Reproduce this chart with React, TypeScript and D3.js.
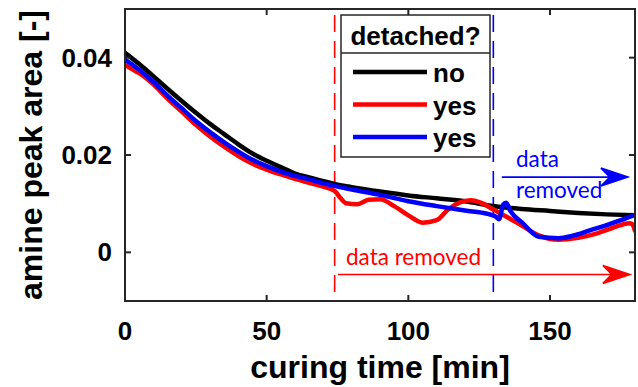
import * as d3 from "d3";

// curing time [min] and amine peak area [-] for each sample
const blackTime = [0, 5, 10, 15, 20, 25, 30, 35, 40, 45, 50, 55, 60, 65, 70, 75, 80, 90, 100, 110, 120, 130, 140, 150, 160, 170, 180];
const blackArea = [0.041, 0.0387, 0.0362, 0.0336, 0.0311, 0.0287, 0.0264, 0.0243, 0.0222, 0.0203, 0.0188, 0.0175, 0.0162, 0.0154, 0.0146, 0.0139, 0.0134, 0.0125, 0.0117, 0.0111, 0.0105, 0.0095, 0.0089, 0.0085, 0.0081, 0.0078, 0.0076];

const redTime = [0, 2, 5, 10, 15, 20, 25, 30, 35, 40, 45, 50, 55, 60, 65, 70, 74, 76, 78, 82, 86, 90, 95, 100, 105, 110, 114, 118, 122, 126, 130, 135, 140, 146, 153, 160, 166, 172, 178, 179, 180];
const redArea = [0.0385, 0.0378, 0.0368, 0.0345, 0.0316, 0.0289, 0.0262, 0.0238, 0.0217, 0.0198, 0.0182, 0.017, 0.016, 0.0151, 0.0143, 0.0135, 0.0126, 0.0112, 0.0101, 0.0099, 0.0108, 0.0109, 0.0095, 0.0076, 0.0061, 0.0066, 0.0088, 0.0102, 0.0107, 0.0101, 0.0088, 0.0072, 0.0055, 0.0035, 0.0026, 0.003, 0.0038, 0.005, 0.006, 0.0058, 0.0044];

const blueTime = [0, 5, 10, 15, 20, 25, 30, 35, 40, 45, 50, 55, 60, 65, 70, 75, 80, 90, 100, 110, 120, 128, 131, 132, 133.5, 134.5, 136, 140, 146, 153, 158, 164, 170, 175, 180];
const blueArea = [0.0396, 0.0375, 0.035, 0.0322, 0.0296, 0.027, 0.0247, 0.0226, 0.0207, 0.019, 0.0177, 0.0166, 0.0157, 0.015, 0.0142, 0.0135, 0.0129, 0.0118, 0.0105, 0.0095, 0.0086, 0.0079, 0.0073, 0.0068, 0.0098, 0.0102, 0.0085, 0.0062, 0.0032, 0.0029, 0.0034, 0.0045, 0.0056, 0.0066, 0.0077];

const xTicks = [0, 50, 100, 150];
const yTicks = [0, 0.02, 0.04];
const yTickLabels = ["0", "0.02", "0.04"];

const legendLabels = ["no", "yes", "yes"];
const seriesColors = ["#000000", "#ff0000", "#0000ff"];

// where data was removed (red sample, blue sample)
const removedFrom = [74, 130];

const W = 638;
const H = 387;
const left = 125, right = 635, top = 9, bottom = 301;
const axisColor = "#262626";

const x = d3.scaleLinear().domain([0, 180]).range([left, right]);
const y = d3.scaleLinear().domain([-0.01, 0.05]).range([bottom, top]);

const line = d3
	.line<[number, number]>()
	.x((d) => x(d[0]))
	.y((d) => y(d[1]))
	.curve(d3.curveMonotoneX);

const zip = (t: number[], v: number[]) => t.map((ti, i) => [ti, v[i]] as [number, number]);

const arrowPath = (x1: number, x2: number, yy: number) => {
	const L = 27, hw = 9, notch = 9;
	return `M${x1},${yy}L${x2 - L + notch},${yy}` +
		`M${x2},${yy}L${x2 - L},${yy - hw}L${x2 - L + notch},${yy}L${x2 - L},${yy + hw}Z`;
};

const App = () => {
	const series = [
		{ pts: zip(blackTime, blackArea), color: seriesColors[0] },
		{ pts: zip(redTime, redArea), color: seriesColors[1] },
		{ pts: zip(blueTime, blueArea), color: seriesColors[2] },
	];

	const redArrowY = y(-0.00454);
	const blueArrowY = y(0.01546);
	const boldFont = "'Liberation Sans', Arial, sans-serif";
	const noteFont = "Lato, 'Open Sans', sans-serif";

	return (
		<div style={{ position: "absolute", left: 0, top: 0 }}>
			<svg width={W} height={H} style={{ display: "block", background: "#fff" }}>
				<defs>
					<clipPath id="plot">
						<rect x={left} y={top} width={right - left} height={bottom - top} />
					</clipPath>
				</defs>

				{/* vertical dashed markers */}
				{removedFrom.map((t, i) => (
					<line
						key={"v" + i}
						x1={x(t)}
						x2={x(t)}
						y1={top + 6}
						y2={bottom}
						stroke={seriesColors[i + 1]}
						strokeWidth={1.6}
						strokeDasharray="17 9"
					/>
				))}

				<g clipPath="url(#plot)" fill="none" strokeLinejoin="round" strokeLinecap="round">
					{series.map((s, i) => (
						<path key={i} d={line(s.pts) ?? ""} stroke={s.color} strokeWidth={4.5} />
					))}
				</g>

				{/* axes box with inward ticks */}
				<rect x={left} y={top} width={right - left} height={bottom - top} fill="none" stroke={axisColor} strokeWidth={2} />
				{xTicks.map((t) => (
					<g key={"xt" + t}>
						<line x1={x(t)} x2={x(t)} y1={bottom} y2={bottom - 6} stroke={axisColor} strokeWidth={2} />
						<line x1={x(t)} x2={x(t)} y1={top} y2={top + 6} stroke={axisColor} strokeWidth={2} />
						<text x={x(t)} y={bottom + 39} textAnchor="middle" fontFamily={boldFont} fontWeight="bold" fontSize={26} fill="#000">
							{t}
						</text>
					</g>
				))}
				{yTicks.map((v, i) => (
					<g key={"yt" + v}>
						<line x1={left} x2={left + 6} y1={y(v)} y2={y(v)} stroke={axisColor} strokeWidth={2} />
						<line x1={right} x2={right - 6} y1={y(v)} y2={y(v)} stroke={axisColor} strokeWidth={2} />
						<text x={left - 13} y={y(v) + 9} textAnchor="end" fontFamily={boldFont} fontWeight="bold" fontSize={26} fill="#000">
							{yTickLabels[i]}
						</text>
					</g>
				))}

				<text x={(left + right) / 2} y={378} textAnchor="middle" fontFamily={boldFont} fontWeight="bold" fontSize={32} fill="#000">
					curing time [min]
				</text>
				<text
					transform={`translate(42,${(top + bottom) / 2}) rotate(-90)`}
					textAnchor="middle"
					fontFamily={boldFont}
					fontWeight="bold"
					fontSize={32}
					fill="#000"
				>
					amine peak area [-]
				</text>

				{/* legend */}
				<g>
					<rect x={341} y={15} width={149} height={142} fill="#fff" stroke={axisColor} strokeWidth={1.5} />
					<line x1={341} x2={490} y1={53} y2={53} stroke={axisColor} strokeWidth={1.5} />
					<text x={415.5} y={45} textAnchor="middle" fontFamily={boldFont} fontWeight="bold" fontSize={26} fill="#000">
						detached?
					</text>
					{legendLabels.map((lab, i) => (
						<g key={"lg" + i}>
							<line x1={353} x2={427} y1={72 + i * 32.5} y2={72 + i * 32.5} stroke={seriesColors[i]} strokeWidth={4.5} />
							<text x={433} y={82 + i * 32.5} fontFamily={boldFont} fontWeight="bold" fontSize={26} fill="#000">
								{lab}
							</text>
						</g>
					))}
				</g>

				{/* annotations */}
				<path d={arrowPath(x(75.2), x(178.2), redArrowY)} stroke="#ff0000" strokeWidth={1.6} fill="#ff0000" />
				<text x={x(78)} y={y(-0.00268)} fontFamily={noteFont} fontSize={22.5} fill="#ff0000">
					data removed
				</text>
				<path d={arrowPath(x(133), x(177.5), blueArrowY)} stroke="#0000ff" strokeWidth={1.6} fill="#0000ff" />
				<text x={x(138)} y={y(0.01753)} fontFamily={noteFont} fontSize={22.5} fill="#0000ff">
					data
				</text>
				<text x={x(138)} y={y(0.01113)} fontFamily={noteFont} fontSize={22.5} fill="#0000ff">
					removed
				</text>
			</svg>
		</div>
	);
};

export default App;
